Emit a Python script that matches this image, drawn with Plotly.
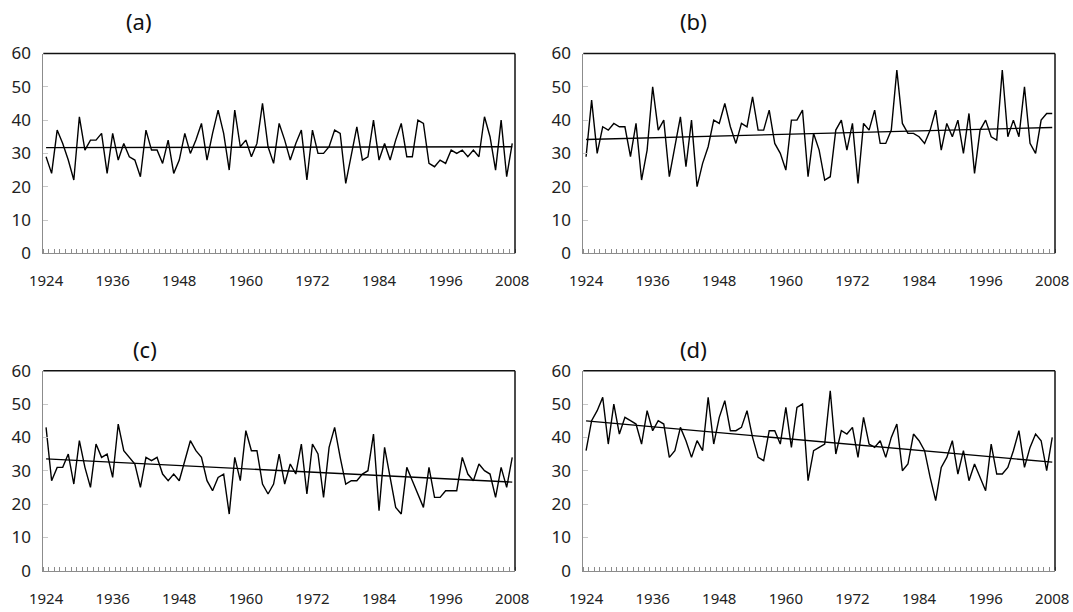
import numpy as np
import plotly.graph_objects as go

# Annual series, 1924-2008
years = list(range(1924, 2009))

series_a = [29, 24, 37, 33, 28, 22, 41, 31, 34, 34,
            36, 24, 36, 28, 33, 29, 28, 23, 37, 31,
            31, 27, 34, 24, 28, 36, 30, 34, 39, 28,
            36, 43, 36, 25, 43, 32, 34, 29, 33, 45,
            32, 27, 39, 34, 28, 33, 37, 22, 37, 30,
            30, 32, 37, 36, 21, 29, 38, 28, 29, 40,
            28, 33, 28, 34, 39, 29, 29, 40, 39, 27,
            26, 28, 27, 31, 30, 31, 29, 31, 29, 41,
            35, 25, 40, 23, 33]

series_b = [29, 46, 30, 38, 37, 39, 38, 38, 29, 39,
            22, 31, 50, 37, 40, 23, 32, 41, 26, 40,
            20, 27, 32, 40, 39, 45, 38, 33, 39, 38,
            47, 37, 37, 43, 33, 30, 25, 40, 40, 43,
            23, 36, 31, 22, 23, 37, 40, 31, 39, 21,
            39, 37, 43, 33, 33, 37, 55, 39, 36, 36,
            35, 33, 37, 43, 31, 39, 35, 40, 30, 42,
            24, 37, 40, 35, 34, 55, 35, 40, 35, 50,
            33, 30, 40, 42, 42]

series_c = [43, 27, 31, 31, 35, 26, 39, 31, 25, 38,
            34, 35, 28, 44, 36, 34, 32, 25, 34, 33,
            34, 29, 27, 29, 27, 33, 39, 36, 34, 27,
            24, 28, 29, 17, 34, 27, 42, 36, 36, 26,
            23, 26, 35, 26, 32, 29, 38, 23, 38, 35,
            22, 37, 43, 34, 26, 27, 27, 29, 30, 41,
            18, 37, 28, 19, 17, 31, 27, 23, 19, 31,
            22, 22, 24, 24, 24, 34, 29, 27, 32, 30,
            29, 22, 31, 25, 34]

series_d = [36, 45, 48, 52, 38, 50, 41, 46, 45, 44,
            38, 48, 42, 45, 44, 34, 36, 43, 39, 34,
            39, 36, 52, 38, 46, 51, 42, 42, 43, 48,
            40, 34, 33, 42, 42, 38, 49, 37, 49, 50,
            27, 36, 37, 38, 54, 35, 42, 41, 43, 34,
            46, 38, 37, 39, 34, 40, 44, 30, 32, 41,
            39, 36, 28, 21, 31, 34, 39, 29, 36, 27,
            32, 28, 24, 38, 29, 29, 31, 36, 42, 31,
            37, 41, 39, 30, 40]

panel_titles = ["(a)", "(b)", "(c)", "(d)"]
year_labels = [1924, 1936, 1948, 1960, 1972, 1984, 1996, 2008]
value_ticks = [0, 10, 20, 30, 40, 50, 60]

W, H = 1073, 612
FONT = "Noto Sans"
AXIS_GREY = "#8c8c8c"

# Plot-area boxes in pixels: (left, right, top, bottom)
boxes = [
    (43.3, 515.0, 53.5, 253.3),
    (583.3, 1055.0, 53.5, 253.3),
    (43.3, 515.0, 370.7, 570.7),
    (583.3, 1055.0, 370.7, 570.7),
]
title_pos = [(139, 21), (693, 21), (145, 349), (693, 349)]

all_series = [series_a, series_b, series_c, series_d]

fig = go.Figure()
layout = dict(
    width=W, height=H,
    margin=dict(l=0, r=0, t=0, b=0, pad=0, autoexpand=False),
    paper_bgcolor="white",
    plot_bgcolor="white",
    showlegend=False,
    font=dict(family=FONT, color="#222222"),
    shapes=[],
    annotations=[],
)

yrs = np.array(years, dtype=float)
for k, (vals, box, title, tpos) in enumerate(zip(all_series, boxes, panel_titles, title_pos)):
    sfx = "" if k == 0 else str(k + 1)
    xname, yname = "x" + sfx, "y" + sfx
    left, right, top, bottom = box

    # observed series
    fig.add_trace(go.Scatter(
        x=years, y=vals, mode="lines",
        line=dict(color="black", width=1.4),
        xaxis=xname, yaxis=yname, hoverinfo="skip",
    ))
    # least-squares linear trend
    slope, icpt = np.polyfit(yrs, np.array(vals, dtype=float), 1)
    fig.add_trace(go.Scatter(
        x=years, y=(slope * yrs + icpt).tolist(), mode="lines",
        line=dict(color="black", width=1.4),
        xaxis=xname, yaxis=yname, hoverinfo="skip",
    ))

    layout["xaxis" + sfx] = dict(
        domain=[left / W, right / W],
        anchor=yname,
        automargin=False,
        range=[years[0] - 0.5, years[-1] + 0.5],
        tickmode="array", tickvals=year_labels,
        ticks="", ticklabelstandoff=14,
        tickfont=dict(size=15, family=FONT, color="#222222"),
        showline=True, linecolor=AXIS_GREY, linewidth=1,
        showgrid=False, zeroline=False,
        minor=dict(tickmode="linear", tick0=years[0] - 0.5, dtick=1,
                   ticks="inside", ticklen=4, tickwidth=1, tickcolor=AXIS_GREY,
                   showgrid=False),
    )
    layout["yaxis" + sfx] = dict(
        domain=[(H - bottom) / H, (H - top) / H],
        anchor=xname,
        automargin=False,
        range=[0, 60],
        tickmode="array", tickvals=value_ticks,
        ticks="inside", ticklen=5, tickcolor="#c8c8c8",
        ticklabelstandoff=8,
        tickfont=dict(size=17, family=FONT, color="#222222"),
        showline=True, linecolor=AXIS_GREY, linewidth=1,
        showgrid=False, zeroline=False,
    )
    # dark frame on the top and right of each plot area
    for x0, y0, x1, y1 in [(0, 1, 1, 1), (1, 0, 1, 1)]:
        layout["shapes"].append(dict(
            type="line", xref=xname + " domain", yref=yname + " domain",
            x0=x0, y0=y0, x1=x1, y1=y1,
            line=dict(color="#111111", width=1.5),
        ))
    layout["annotations"].append(dict(
        text=title, xref="paper", yref="paper",
        x=tpos[0] / W, y=(H - tpos[1]) / H,
        xanchor="center", yanchor="middle", showarrow=False,
        font=dict(size=22, family=FONT, color="#111111"),
    ))

fig.update_layout(**layout)
fig.write_html("out.html")
